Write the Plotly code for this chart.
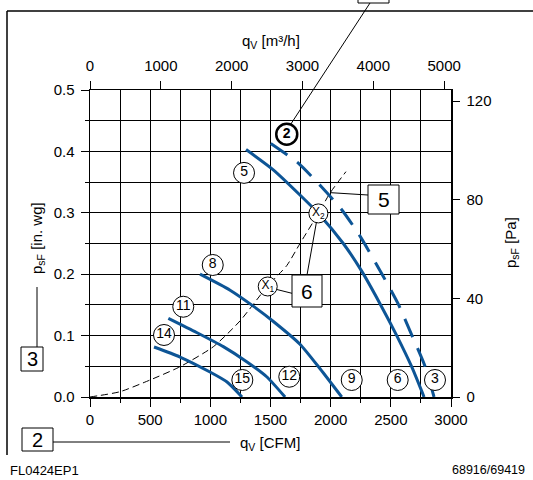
import plotly.graph_objects as go

# ---------------- data ----------------
cfm_ticks = [0, 500, 1000, 1500, 2000, 2500, 3000]
m3h_ticks = [0, 1000, 2000, 3000, 4000, 5000]
inwg_ticks = [0.0, 0.1, 0.2, 0.3, 0.4, 0.5]
inwg_labels = ["0.0", "0.1", "0.2", "0.3", "0.4", "0.5"]
pa_ticks = [0, 40, 80, 120]

M3H_PER_CFM = 1.699
PA_PER_INWG = 249.09
X_MAX = 3000
Y_MAX = 0.5

# fan curves (q in CFM, p in in. wg)
c14_q = [532, 748, 997, 1139, 1263]
c14_p = [0.0814, 0.0651, 0.0407, 0.0244, 0.0]
c11_q = [651, 886, 1108, 1302, 1468, 1621]
c11_p = [0.128, 0.105, 0.082, 0.0575, 0.033, 0.0]
c8_q = [914, 1164, 1357, 1524, 1745, 1912, 2092]
c8_p = [0.200, 0.174, 0.148, 0.123, 0.086, 0.046, 0.0]
c5_q = [1297, 1523, 1745, 1898, 2105, 2258, 2410, 2549, 2674, 2776]
c5_p = [0.403, 0.370, 0.329, 0.299, 0.250, 0.205, 0.152, 0.100, 0.049, 0.0]
c2_q = [1502, 1731, 1925, 2092, 2244, 2427, 2560, 2676, 2784, 2859]
c2_p = [0.413, 0.381, 0.342, 0.305, 0.262, 0.200, 0.152, 0.100, 0.050, 0.0]

# system curve
sys_q = [0, 249, 499, 748, 1025, 1247, 1477, 1635, 1745, 1898, 1994, 2127]
sys_p = [0.0, 0.0086, 0.0277, 0.0493, 0.0819, 0.124, 0.181, 0.214, 0.250, 0.299, 0.332, 0.367]

# circled curve labels
lab_text = ["14", "11", "8", "5", "15", "12", "9", "6", "3"]
lab_q = [615, 775, 1020, 1280, 1266, 1656, 2175, 2557, 2867]
lab_p = [0.101, 0.147, 0.215, 0.365, 0.0277, 0.033, 0.0277, 0.0277, 0.0277]
bold_text = ["2"]
bold_q = [1635]
bold_p = [0.428]
op_text = ["X<sub>1</sub>", "X<sub>2</sub>"]
op_q = [1477, 1898]
op_p = [0.180, 0.299]

# ---------------- geometry helpers ----------------
W, H = 533, 480
PL, PR, PT, PB = 90, 451, 90, 397
BLUE = "#0d5596"
FONT = "Liberation Sans, Arial, sans-serif"


def paper(px, py):
    return (px - PL) / (PR - PL), (PB - py) / (PB - PT)


def d2px(q, p):
    return PL + q / X_MAX * (PR - PL), PB - p / Y_MAX * (PB - PT)


fig = go.Figure()

fig.add_trace(go.Scatter(x=sys_q, y=sys_p, mode="lines", line=dict(color="black", width=1, dash="7px,4px", shape="spline", smoothing=0.6), hoverinfo="skip"))
for q, p in [(c14_q, c14_p), (c11_q, c11_p), (c8_q, c8_p), (c5_q, c5_p)]:
    fig.add_trace(go.Scatter(x=q, y=p, mode="lines", line=dict(color=BLUE, width=3, shape="spline", smoothing=0.6), hoverinfo="skip"))
fig.add_trace(go.Scatter(x=c2_q, y=c2_p, mode="lines", line=dict(color=BLUE, width=3, dash="20px,12px", shape="spline", smoothing=0.6), hoverinfo="skip"))

fig.add_trace(go.Scatter(x=lab_q, y=lab_p, mode="markers+text", text=lab_text, textposition="middle center",
                         textfont=dict(size=14, color="black", family=FONT),
                         marker=dict(size=21, color="white", line=dict(color="black", width=1)), cliponaxis=False, hoverinfo="skip"))
fig.add_trace(go.Scatter(x=bold_q, y=bold_p, mode="markers+text", text=["<b>%s</b>" % t for t in bold_text], textposition="middle center",
                         textfont=dict(size=14, color="black", family=FONT),
                         marker=dict(size=21, color="white", line=dict(color="black", width=2.5)), cliponaxis=False, hoverinfo="skip"))
fig.add_trace(go.Scatter(x=op_q, y=op_p, mode="markers+text", text=op_text, textposition="middle center",
                         textfont=dict(size=12, color="black", family=FONT),
                         marker=dict(size=19, color="white", line=dict(color="black", width=1)), cliponaxis=False, hoverinfo="skip"))

# invisible trace to activate secondary axes
fig.add_trace(go.Scatter(x=[m3h_ticks[0]], y=[pa_ticks[0]], xaxis="x2", yaxis="y2", mode="markers",
                         marker=dict(opacity=0), hoverinfo="skip"))

shapes = []
annos = []


def pline(x0, y0, x1, y1, w=1):
    a = paper(x0, y0)
    b = paper(x1, y1)
    shapes.append(dict(type="line", xref="paper", yref="paper", x0=a[0], y0=a[1], x1=b[0], y1=b[1],
                       line=dict(color="black", width=w)))


def box(x0, y0, x1, y1, text, size):
    a = paper(x0, y0)
    b = paper(x1, y1)
    shapes.append(dict(type="rect", xref="paper", yref="paper", x0=a[0], y0=a[1], x1=b[0], y1=b[1],
                       line=dict(color="black", width=1), fillcolor="white", layer="above"))
    if text:
        c = paper((x0 + x1) / 2, (y0 + y1) / 2)
        annos.append(dict(xref="paper", yref="paper", x=c[0], y=c[1], text=text, showarrow=False,
                          xanchor="center", yanchor="middle", font=dict(size=size, color="black", family=FONT)))


def text(px, py, t, size, xanchor="center", angle=0):
    c = paper(px, py)
    annos.append(dict(xref="paper", yref="paper", x=c[0], y=c[1], text=t, showarrow=False, textangle=angle,
                      xanchor=xanchor, yanchor="middle", font=dict(size=size, color="black", family=FONT)))


# outer frame
pline(7, 11, 533, 11, 1.5)
pline(7, 11, 7, 455, 1.5)

# leader lines
x2px = d2px(op_q[1], op_p[1])
x1px = d2px(op_q[0], op_p[0])
b2px = d2px(bold_q[0], bold_p[0])
pline(370, 3, b2px[0] + 4, b2px[1] - 10)
pline(368, 195, 331, 192.7)
pline(292, 293.3, x1px[0] + 9, x1px[1] + 3)
pline(307, 275, x2px[0] - 2, x2px[1] + 9)
pline(53, 442, 230, 442)
pline(37, 347, 37, 287)

# callout boxes
box(358, -20, 389, 3, "", 20)
box(368, 185, 399, 214, "5", 21)
box(292, 275, 322, 307, "6", 21)
box(22, 428, 53, 451, "2", 20)
box(21, 347, 43, 371, "3", 20)

# axis titles
text(271, 42, "q<sub>V</sub> [m³/h]", 15)
text(238, 443, "q<sub>V</sub> [CFM]", 15, xanchor="left")
text(37, 238, "p<sub>sF</sub> [in. wg]", 15, angle=-90)
text(511, 243, "p<sub>sF</sub> [Pa]", 15, angle=-90)

# footer
text(8, 470, "FL0424EP1", 13, xanchor="left")
text(527, 470, "68916/69419", 12.5, xanchor="right")

axis_common = dict(showline=True, linecolor="black", linewidth=1.5, ticks="outside", tickcolor="black",
                   tickwidth=1, zeroline=False, tickfont=dict(size=15, color="black", family=FONT))

fig.update_layout(
    width=W, height=H, autosize=False,
    margin=dict(l=PL, r=W - PR, t=PT, b=H - PB, autoexpand=False),
    plot_bgcolor="white", paper_bgcolor="white", showlegend=False,
    font=dict(family=FONT, size=15, color="black"),
    xaxis=dict(range=[0, X_MAX], tickvals=cfm_ticks, ticktext=[str(v) for v in cfm_ticks], ticklen=8,
               showgrid=True, gridcolor="black", gridwidth=1,
               minor=dict(dtick=250, tick0=0, ticks="outside", ticklen=4, tickcolor="black", showgrid=True,
                          gridcolor="black", gridwidth=1),
               **axis_common),
    yaxis=dict(range=[0, Y_MAX], tickvals=inwg_ticks, ticktext=inwg_labels, ticklen=8, ticklabelstandoff=3,
               showgrid=True, gridcolor="black", gridwidth=1,
               minor=dict(dtick=0.05, tick0=0, ticks="outside", ticklen=4, tickcolor="black", showgrid=True,
                          gridcolor="black", gridwidth=1),
               **axis_common),
    xaxis2=dict(range=[0, X_MAX * M3H_PER_CFM], tickvals=m3h_ticks, ticktext=[str(v) for v in m3h_ticks],
                overlaying="x", side="top", anchor="y", ticklen=8, ticklabelstandoff=4, showgrid=False, **axis_common),
    yaxis2=dict(range=[0, Y_MAX * PA_PER_INWG], tickvals=pa_ticks, ticktext=[str(v) for v in pa_ticks],
                overlaying="y", side="right", anchor="x", ticklen=7, ticklabelstandoff=4, showgrid=False, **axis_common),
    shapes=shapes, annotations=annos,
)

fig.write_html("out.html", config={"displayModeBar": False, "staticPlot": True},
               post_script="document.body.style.margin='0';document.body.style.overflow='hidden';")
